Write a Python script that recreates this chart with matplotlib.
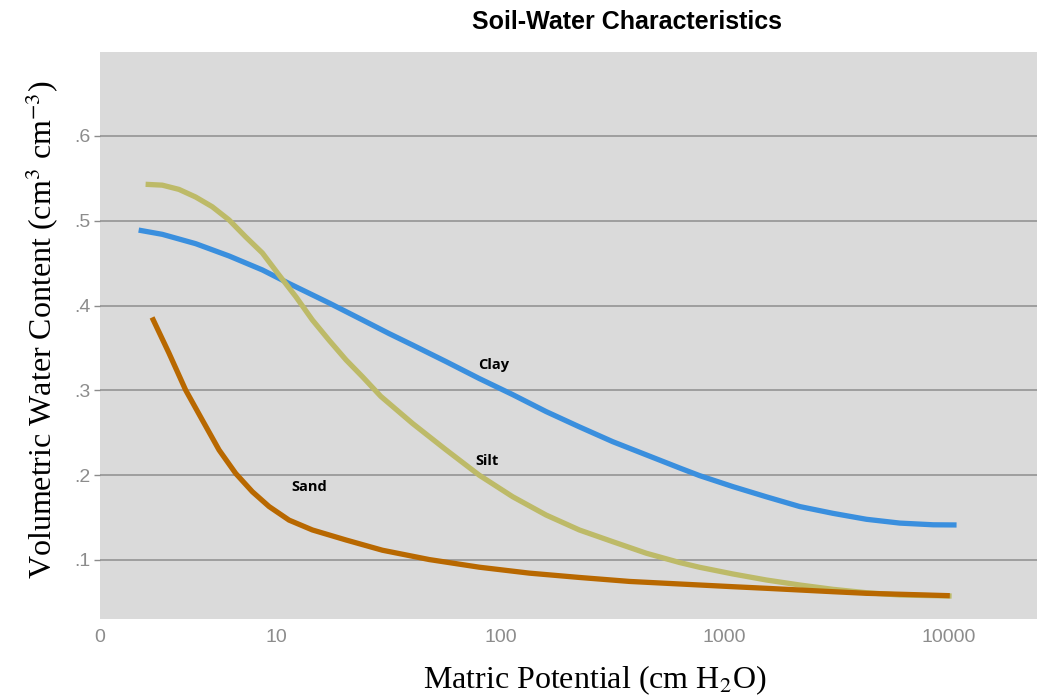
import numpy as np
import matplotlib
matplotlib.use("Agg")
import matplotlib.pyplot as plt
from matplotlib.ticker import FixedLocator, NullLocator

# matric potential (cm H2O) and volumetric water content
clay_x = [2.44, 3.11, 4.38, 6.17, 8.69, 11.43, 17.25, 24.3, 31.9, 40.6, 57.2, 80.5,
          113.5, 160, 225, 317, 447, 630, 773, 1089, 1535, 2163, 3041, 4286, 6040,
          8511, 10816]
clay_y = [0.489, 0.484, 0.473, 0.4585, 0.442, 0.426, 0.403, 0.383, 0.367, 0.3535,
          0.334, 0.314, 0.295, 0.275, 0.257, 0.2395, 0.224, 0.2085, 0.1995, 0.1865,
          0.1745, 0.163, 0.155, 0.148, 0.1435, 0.1415, 0.1413]

silt_x = [2.62, 3.11, 3.69, 4.38, 5.19, 6.17, 7.32, 8.69, 10.31, 12.25, 14.52, 17.25,
          20.5, 24.3, 29.3, 40.6, 57.2, 80.5, 113.5, 160, 225, 317, 447, 630, 773,
          1089, 1535, 2163, 3041, 4286, 6040, 10280]
silt_y = [0.543, 0.542, 0.537, 0.528, 0.5166, 0.501, 0.481, 0.462, 0.436, 0.4105,
          0.383, 0.359, 0.336, 0.316, 0.293, 0.261, 0.230, 0.200, 0.1746, 0.153,
          0.1354, 0.1216, 0.108, 0.097, 0.0914, 0.0835, 0.0764, 0.0705, 0.0654,
          0.0614, 0.0587, 0.0575]

sand_x = [2.80, 3.33, 3.95, 4.69, 5.57, 6.61, 7.84, 9.31, 11.43, 14.52, 20.5, 29.8,
          48.2, 80.5, 134.6, 225, 377, 630, 1089, 1535, 2163, 3041, 4286, 6040, 10090]
sand_y = [0.386, 0.344, 0.3005, 0.265, 0.2297, 0.202, 0.1805, 0.163, 0.147, 0.1354,
          0.1236, 0.1115, 0.1005, 0.0915, 0.0845, 0.0794, 0.0747, 0.0717, 0.0685,
          0.0666, 0.0646, 0.0626, 0.0607, 0.0596, 0.0579]

xtick_pos = [1.64, 10, 100, 1000, 10000]
xtick_lab = ["0", "10", "100", "1000", "10000"]
ytick_pos = [0.1, 0.2, 0.3, 0.4, 0.5, 0.6]
ytick_lab = [".1", ".2", ".3", ".4", ".5", ".6"]

plt.rcParams['mathtext.fontset'] = 'stix'

fig = plt.figure(figsize=(10.37, 7.0), dpi=100)
ax = fig.add_axes([0.0964, 0.1157, 0.9036, 0.81])
ax.set_facecolor('#dadada')

ax.set_xscale('log')
ax.set_xlim(1.64, 24700)
ax.set_ylim(0.0304, 0.699)

ax.plot(clay_x, clay_y, color='#3a8fde', lw=3.8, solid_capstyle='butt', zorder=3)
ax.plot(silt_x, silt_y, color='#bdba68', lw=3.8, solid_capstyle='butt', zorder=3)
ax.plot(sand_x, sand_y, color='#b86800', lw=3.8, solid_capstyle='butt', zorder=4)

lab_kw = dict(fontsize=10.5, fontweight='bold', family=['Open Sans', 'DejaVu Sans'],
              ha='center', va='center', color='black')
ax.text(93, 0.330, 'Clay', **lab_kw)
ax.text(87, 0.2167, 'Silt', **lab_kw)
ax.text(14.1, 0.1864, 'Sand', **lab_kw)

ax.xaxis.set_major_locator(FixedLocator(xtick_pos))
ax.xaxis.set_minor_locator(NullLocator())
ax.set_xticklabels(xtick_lab)
ax.set_yticks(ytick_pos)
ax.set_yticklabels(ytick_lab)
ax.tick_params(axis='both', colors='#8c8c8c', labelsize=14, length=4, width=1)
ax.tick_params(axis='x', length=0, pad=7)
ax.tick_params(axis='y', pad=3)
for t in ax.get_xticklabels() + ax.get_yticklabels():
    t.set_family(['Liberation Sans', 'DejaVu Sans'])

ax.grid(axis='y', color='#999999', lw=1.3)
ax.set_axisbelow(True)
for s in ax.spines.values():
    s.set_visible(False)

ax.set_xlabel('Matric Potential (cm H$_2$O)', fontsize=23,
              family=['Liberation Serif', 'DejaVu Serif'])
ax.xaxis.set_label_coords(0.528, -0.079)
ax.set_ylabel('Volumetric Water Content (cm$^3$ cm$^{-3}$)', fontsize=23,
              family=['Liberation Serif', 'DejaVu Serif'])
ax.yaxis.set_label_coords(-0.042, 0.51)

fig.text(0.605, 0.968, 'Soil-Water Characteristics', fontsize=18, fontweight='bold',
         family=['Liberation Sans Narrow', 'Liberation Sans', 'DejaVu Sans'],
         ha='center', va='center')

fig.savefig('out.png', dpi=100)
